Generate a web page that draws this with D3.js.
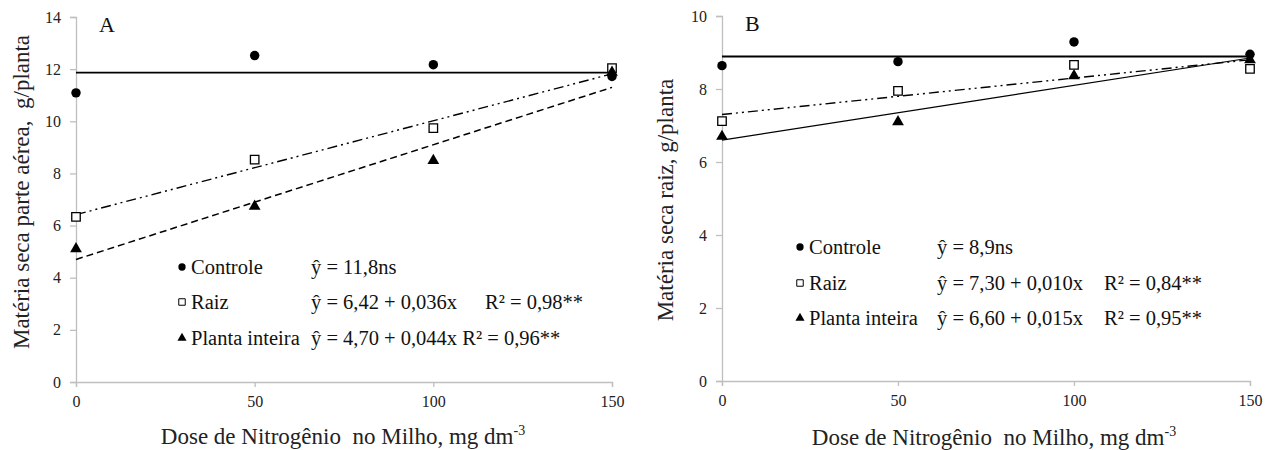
<!DOCTYPE html>
<html>
<head>
<meta charset="utf-8">
<script src="https://cdn.jsdelivr.net/npm/d3@7"></script>
<style>
  html, body { margin: 0; padding: 0; background: #fff; }
  svg { display: block; }
  svg text { font-family: "Liberation Serif", "Times New Roman", "DejaVu Serif", serif; }
</style>
</head>
<body>
<svg id="chart" width="1280" height="450"></svg>
<script>
const serif = "'Liberation Serif', 'Times New Roman', 'DejaVu Serif', serif";

// doses (x) shared by both panels
const doses = [0, 50, 100, 150];
const xTicks = [0, 50, 100, 150];

// panel A: shoot dry matter
const aControle = [11.09, 12.52, 12.17, 11.72];
const aRaiz = [6.33, 8.53, 9.74, 12.04];
const aPlanta = [5.11, 6.74, 8.49, 11.88];
const aIntercept = [11.87, 6.42, 4.70];
const aSlope = [0, 0.036, 0.044];
const aYTicks = [0, 2, 4, 6, 8, 10, 12, 14];
const aEquations = ["ŷ = 11,8ns", "ŷ = 6,42 + 0,036x", "ŷ = 4,70 + 0,044x"];
const aR2 = ["", "R² = 0,98**", "R² = 0,96**"];

// panel B: root dry matter
const bControle = [8.64, 8.75, 9.29, 8.95];
const bRaiz = [7.12, 7.95, 8.66, 8.55];
const bPlanta = [6.70, 7.10, 8.36, 8.80];
const bIntercept = [8.89, 7.30, 6.60];
const bSlope = [0, 0.010, 0.015];
const bYTicks = [0, 2, 4, 6, 8, 10];
const bEquations = ["ŷ = 8,9ns", "ŷ = 7,30 + 0,010x", "ŷ = 6,60 + 0,015x"];
const bR2 = ["", "R² = 0,84**", "R² = 0,95**"];

const seriesNames = ["Controle", "Raiz", "Planta inteira"];

const svg = d3.select("#chart").attr("font-family", serif);

const panels = [
  {
    letter: "A", values: [aControle, aRaiz, aPlanta], intercept: aIntercept, slope: aSlope,
    yTicks: aYTicks, eq: aEquations, r2: aR2,
    x0: 76, x1: 612, yTop: 17, yBot: 382,
    yTitle: "Matéria seca parte aérea,\u00a0\u00a0g/planta", yTitleX: 21, yTitleY: 192,
    xTitleX: 343, xTitleY: 444, letterX: 99, letterY: 32,
    legX: 182, legY: [267, 302, 338], eqX: 311, r2X: [0, 485, null],
    plantaDash: "7,4"
  },
  {
    letter: "B", values: [bControle, bRaiz, bPlanta], intercept: bIntercept, slope: bSlope,
    yTicks: bYTicks, eq: bEquations, r2: bR2,
    x0: 722, x1: 1250, yTop: 16, yBot: 381,
    yTitle: "Matéria seca raiz, g/planta", yTitleX: 665, yTitleY: 200,
    xTitleX: 994, xTitleY: 445, letterX: 745, letterY: 31,
    legX: 800, legY: [247, 283, 318], eqX: 937, r2X: [0, 1104, 1104],
    plantaDash: null
  }
];

panels.forEach(p => {
  const g = svg.append("g");
  const yMax = d3.max(p.yTicks);
  const x = d3.scaleLinear().domain([0, 150]).range([p.x0, p.x1]);
  const y = d3.scaleLinear().domain([0, yMax]).range([p.yBot, p.yTop]);

  // y axis
  const yAxis = g.append("g")
    .attr("transform", `translate(${p.x0},0)`)
    .call(d3.axisLeft(y).tickValues(p.yTicks).tickSize(6).tickPadding(9).tickFormat(d3.format("d")));
  // x axis
  const xAxis = g.append("g")
    .attr("transform", `translate(0,${p.yBot})`)
    .call(d3.axisBottom(x).tickValues(xTicks).tickSize(5).tickPadding(9).tickFormat(d3.format("d")));

  [yAxis, xAxis].forEach(a => {
    a.attr("font-family", serif);
    a.select(".domain").attr("stroke", "#bfbfbf").attr("stroke-width", 1.3);
    a.selectAll(".tick line").attr("stroke", "#bfbfbf").attr("stroke-width", 1.3);
    a.selectAll(".tick text").attr("font-family", serif).attr("font-size", 16).attr("fill", "#222");
  });

  // axis titles
  g.append("text")
    .attr("transform", `translate(${p.yTitleX},${p.yTitleY}) rotate(-90)`)
    .attr("text-anchor", "middle")
    .attr("dominant-baseline", "central")
    .attr("font-family", serif)
    .attr("font-size", 23)
    .attr("fill", "#222")
    .text(p.yTitle);

  const xt = g.append("text")
    .attr("x", p.xTitleX)
    .attr("y", p.xTitleY)
    .attr("text-anchor", "middle")
    .attr("font-family", serif)
    .attr("font-size", 23)
    .attr("fill", "#222");
  xt.append("tspan").text("Dose de Nitrogênio\u00a0 no Milho, mg dm");
  xt.append("tspan").attr("dy", -9).attr("font-size", 14).text("-3");

  // panel letter
  g.append("text")
    .attr("x", p.letterX).attr("y", p.letterY)
    .attr("font-family", serif)
    .attr("font-size", 22).attr("fill", "#111")
    .text(p.letter);

  // fitted lines
  const line = d3.line().x(d => x(d[0])).y(d => y(d[1]));
  const styles = [
    { w: 1.8, dash: null },
    { w: 1.4, dash: "10,4,2,4,2,4" },
    { w: p.plantaDash ? 1.5 : 1.2, dash: p.plantaDash }
  ];
  p.intercept.forEach((b0, i) => {
    const ends = d3.extent(doses).map(d => [d, b0 + p.slope[i] * d]);
    g.append("path")
      .attr("d", line(ends))
      .attr("fill", "none")
      .attr("stroke", "#000")
      .attr("stroke-width", styles[i].w)
      .attr("stroke-dasharray", styles[i].dash);
  });

  // markers
  const symbols = [d3.symbolCircle, d3.symbolSquare, d3.symbolTriangle];
  const sizes = [70, 72, 60];
  const fills = ["#000", "#fff", "#000"];
  [1, 2, 0].forEach(i => {
    g.append("g").selectAll("path")
      .data(p.values[i].map((v, j) => [doses[j], v]))
      .join("path")
      .attr("transform", d => `translate(${x(d[0])},${y(d[1])})`)
      .attr("d", d3.symbol(symbols[i], sizes[i]))
      .attr("fill", fills[i])
      .attr("stroke", "#000")
      .attr("stroke-width", i === 1 ? 1.3 : 0);
  });

  // legend with equations
  const legSizes = [42, 42, 36];
  seriesNames.forEach((name, i) => {
    const ly = p.legY[i];
    g.append("path")
      .attr("transform", `translate(${p.legX},${ly})`)
      .attr("d", d3.symbol(symbols[i], legSizes[i]))
      .attr("fill", fills[i])
      .attr("stroke", "#000")
      .attr("stroke-width", i === 1 ? 1 : 0);
    const addText = (tx, str) => g.append("text")
      .attr("x", tx).attr("y", ly)
      .attr("dominant-baseline", "central")
      .attr("font-family", serif)
      .attr("font-size", 20.5).attr("fill", "#111")
      .text(str);
    addText(p.legX + 9, name);
    if (p.r2[i] && p.r2X[i] == null) {
      addText(p.eqX, p.eq[i] + " " + p.r2[i]);
    } else {
      addText(p.eqX, p.eq[i]);
      if (p.r2[i]) addText(p.r2X[i], p.r2[i]);
    }
  });
});
</script>
</body>
</html>
